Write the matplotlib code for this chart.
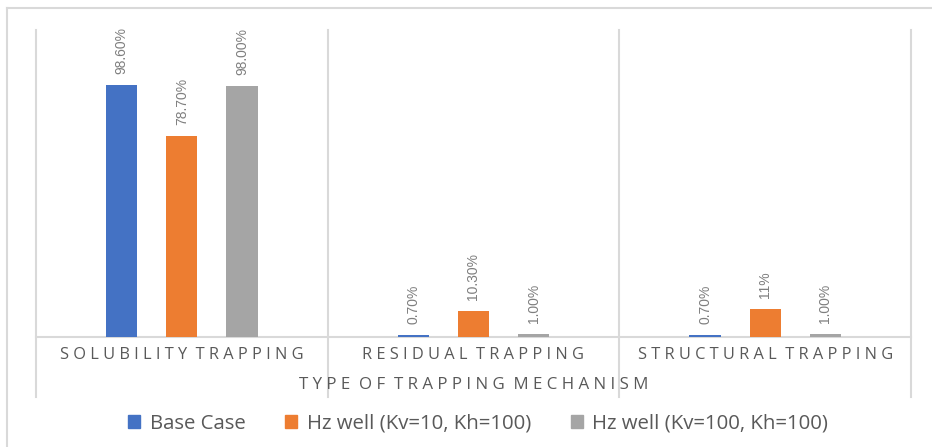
import numpy as np
import matplotlib.pyplot as plt
from matplotlib.patches import Rectangle
from matplotlib.lines import Line2D

# Share of trapped CO2 by mechanism, per well scenario (%)
categories = ["SOLUBILITY TRAPPING", "RESIDUAL TRAPPING", "STRUCTURAL TRAPPING"]
series_names = ["Base Case", "Hz well (Kv=10, Kh=100)", "Hz well (Kv=100, Kh=100)"]
base_case = [98.6, 0.7, 0.7]
hz_kv10 = [78.7, 10.3, 11.0]
hz_kv100 = [98.0, 1.0, 1.0]
value_labels = [
    ["98.60%", "0.70%", "0.70%"],
    ["78.70%", "10.30%", "11%"],
    ["98.00%", "1.00%", "1.00%"],
]
axis_title = "TYPE OF TRAPPING MECHANISM"

colors = ["#4472C4", "#ED7D31", "#A5A5A5"]
grid_col = "#D9D9D9"
text_col = "#595959"

W, H = 932, 447
fig = plt.figure(figsize=(W / 100, H / 100), dpi=100)

# outer chart frame (only top/left edges visible)
fig.add_artist(Line2D([7 / W, 7 / W], [0, 1 - 8 / H], transform=fig.transFigure,
                      color=grid_col, lw=1.5))
fig.add_artist(Line2D([7 / W, 1], [1 - 8 / H, 1 - 8 / H], transform=fig.transFigure,
                      color=grid_col, lw=1.5))

x0, x1 = 36 / W, 911 / W
y0, y1 = 1 - 337 / H, 1 - 30 / H
ax = fig.add_axes([x0, y0, x1 - x0, y1 - y0])
ax.set_xlim(0, 3)
ax.set_ylim(0, 120)
ax.axis("off")

x = np.arange(len(categories)) + 0.5
offsets = [-0.206, 0.0, 0.206]
width = 0.107
all_series = [base_case, hz_kv10, hz_kv100]
for i, (vals, off) in enumerate(zip(all_series, offsets)):
    ax.bar(x + off, vals, width=width, color=colors[i], label=series_names[i], zorder=2)
    for xi, v, lab in zip(x + off, vals, value_labels[i]):
        ax.annotate(lab, (xi, v), xytext=(0, 8), textcoords="offset points",
                    rotation=90, ha="center", va="bottom", fontsize=10,
                    color="#7F7F7F", family="Liberation Sans")

# category separators running down through the label band
bottom_y = -(397 - 337) / (337 - 30) * 120
for b in range(4):
    ax.plot([b, b], [bottom_y, 120], color=grid_col, lw=1.5, clip_on=False, zorder=1)
ax.plot([0, 3], [0, 0], color=grid_col, lw=1.5, clip_on=False, zorder=1)


def spaced(s):
    return " ".join("  " if c == " " else c for c in s).replace("    ", "  ")


lab_y = -(355 - 337) / (337 - 30) * 120
for xi, cat in zip(x, categories):
    ax.text(xi, lab_y, spaced(cat), ha="center", va="center", fontsize=11.8,
            color=text_col, family="Open Sans")
title_y = -(385 - 337) / (337 - 30) * 120
ax.text(1.5, title_y, spaced(axis_title), ha="center", va="center",
        fontsize=12.2, color=text_col, family="Open Sans")

handles = [Rectangle((0, 0), 1, 1, color=c) for c in colors]
fig.legend(handles, series_names, loc="center", bbox_to_anchor=(478 / W, 1 - 424 / H),
           ncol=3, frameon=False, handlelength=0.6, handleheight=0.6,
           handletextpad=0.45, columnspacing=1.95,
           prop={"family": "Open Sans", "size": 14.7}, labelcolor=text_col)

fig.savefig("out.png", dpi=100)
